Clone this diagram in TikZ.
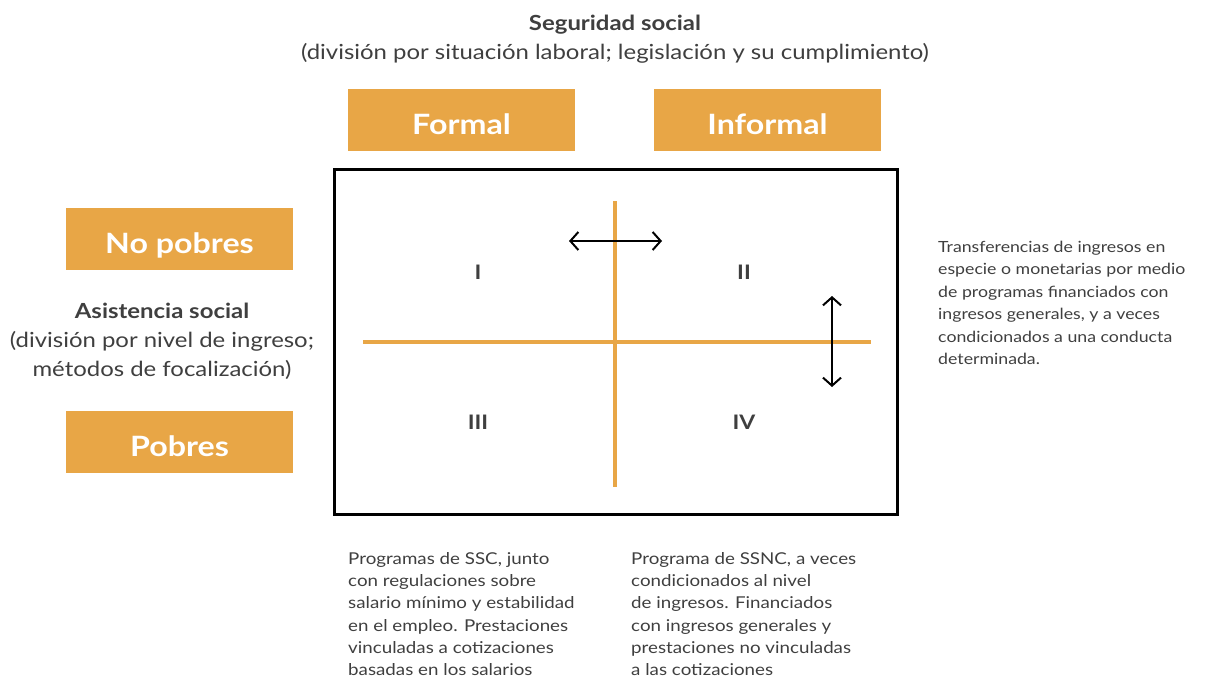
\documentclass[tikz,border=0pt]{standalone}
\usepackage{fontspec}
\setmainfont{Lato}[FakeStretch=1.15]
\usetikzlibrary{arrows.meta}
\definecolor{orangebox}{HTML}{E8A646}
\definecolor{txtgray}{HTML}{3F3F3F}
\tikzset{
  labelbox/.style={fill=orangebox, minimum width=227pt, minimum height=62pt, inner sep=0pt, text=white, text height=28pt, text depth=0pt, font=\fontsize{28}{32}\selectfont\bfseries},
  quad/.style={text=txtgray, font=\fontsize{20}{24}\selectfont\bfseries},
  body/.style={text=txtgray, font=\fontsize{16.3}{22.3}\selectfont, align=left, inner sep=0pt, anchor=north west},
  rbody/.style={body, font=\fontsize{15.4}{22.4}\selectfont},
  heading/.style={text=txtgray, font=\fontsize{20.8}{29}\selectfont, align=center, inner sep=0pt},
  axis/.style={draw=orangebox, line width=4pt},
  dbl/.style={draw=black, line width=2pt, {Straight Barb[length=8pt,width=18pt,line width=2pt]}-{Straight Barb[length=8pt,width=18pt,line width=2pt]}}
}
\begin{document}
\begin{tikzpicture}[x=1pt,y=-1pt]
\useasboundingbox (0,0) rectangle (1212,678);
% headings
\node[heading] (ss) at (615,39) {\textbf{Seguridad social}\\(división por situación laboral; legislación y su cumplimiento)};
\node[heading] (as) at (162,341) {\textbf{Asistencia social}\\(división por nivel de ingreso;\\métodos de focalización)};
% boxes
\node[labelbox] (formal) at (461.5,120) {Formal};
\node[labelbox] (informal) at (767.5,120) {Informal};
\node[labelbox] (nopobres) at (179.5,239) {No pobres};
\node[labelbox] (pobres) at (179.5,442) {Pobres};
% main frame
\node[draw=black, line width=3pt, minimum width=563pt, minimum height=345pt, inner sep=0pt] (frame) at (615.5,341.5) {};
% axes
\coordinate (vt) at (615,201);
\coordinate (vb) at (615,487);
\coordinate (hl) at (363,342);
\coordinate (hr) at (871,342);
\draw[axis] (vt) -- (vb);
\draw[axis] (hl) -- (hr);
% arrows
\coordinate (al) at (569,241);
\coordinate (ar) at (662,241);
\coordinate (at) at (832,296);
\coordinate (ab) at (832,387);
\draw[dbl] (al) -- (ar);
\draw[dbl] (at) -- (ab);
% quadrant labels
\node[quad] (q1) at (478,272) {I};
\node[quad] (q2) at (744,272) {II};
\node[quad] (q3) at (478,422) {III};
\node[quad] (q4) at (744,422) {IV};
% texts
\node[rbody] (rt) at (938,241) {Transferencias de ingresos en\\especie o monetarias por medio\\de programas financiados con\\ingresos generales, y a veces\\condicionados a una conducta\\determinada.};
\node[body] (bl) at (348,552) {Programas de SSC, junto\\con regulaciones sobre\\salario mínimo y estabilidad\\en el empleo. Prestaciones\\vinculadas a cotizaciones\\basadas en los salarios};
\node[body] (br) at (631,552) {Programa de SSNC, a veces\\condicionados al nivel\\de ingresos. Financiados\\con ingresos generales y\\prestaciones no vinculadas\\a las cotizaciones};
\end{tikzpicture}
\end{document}
